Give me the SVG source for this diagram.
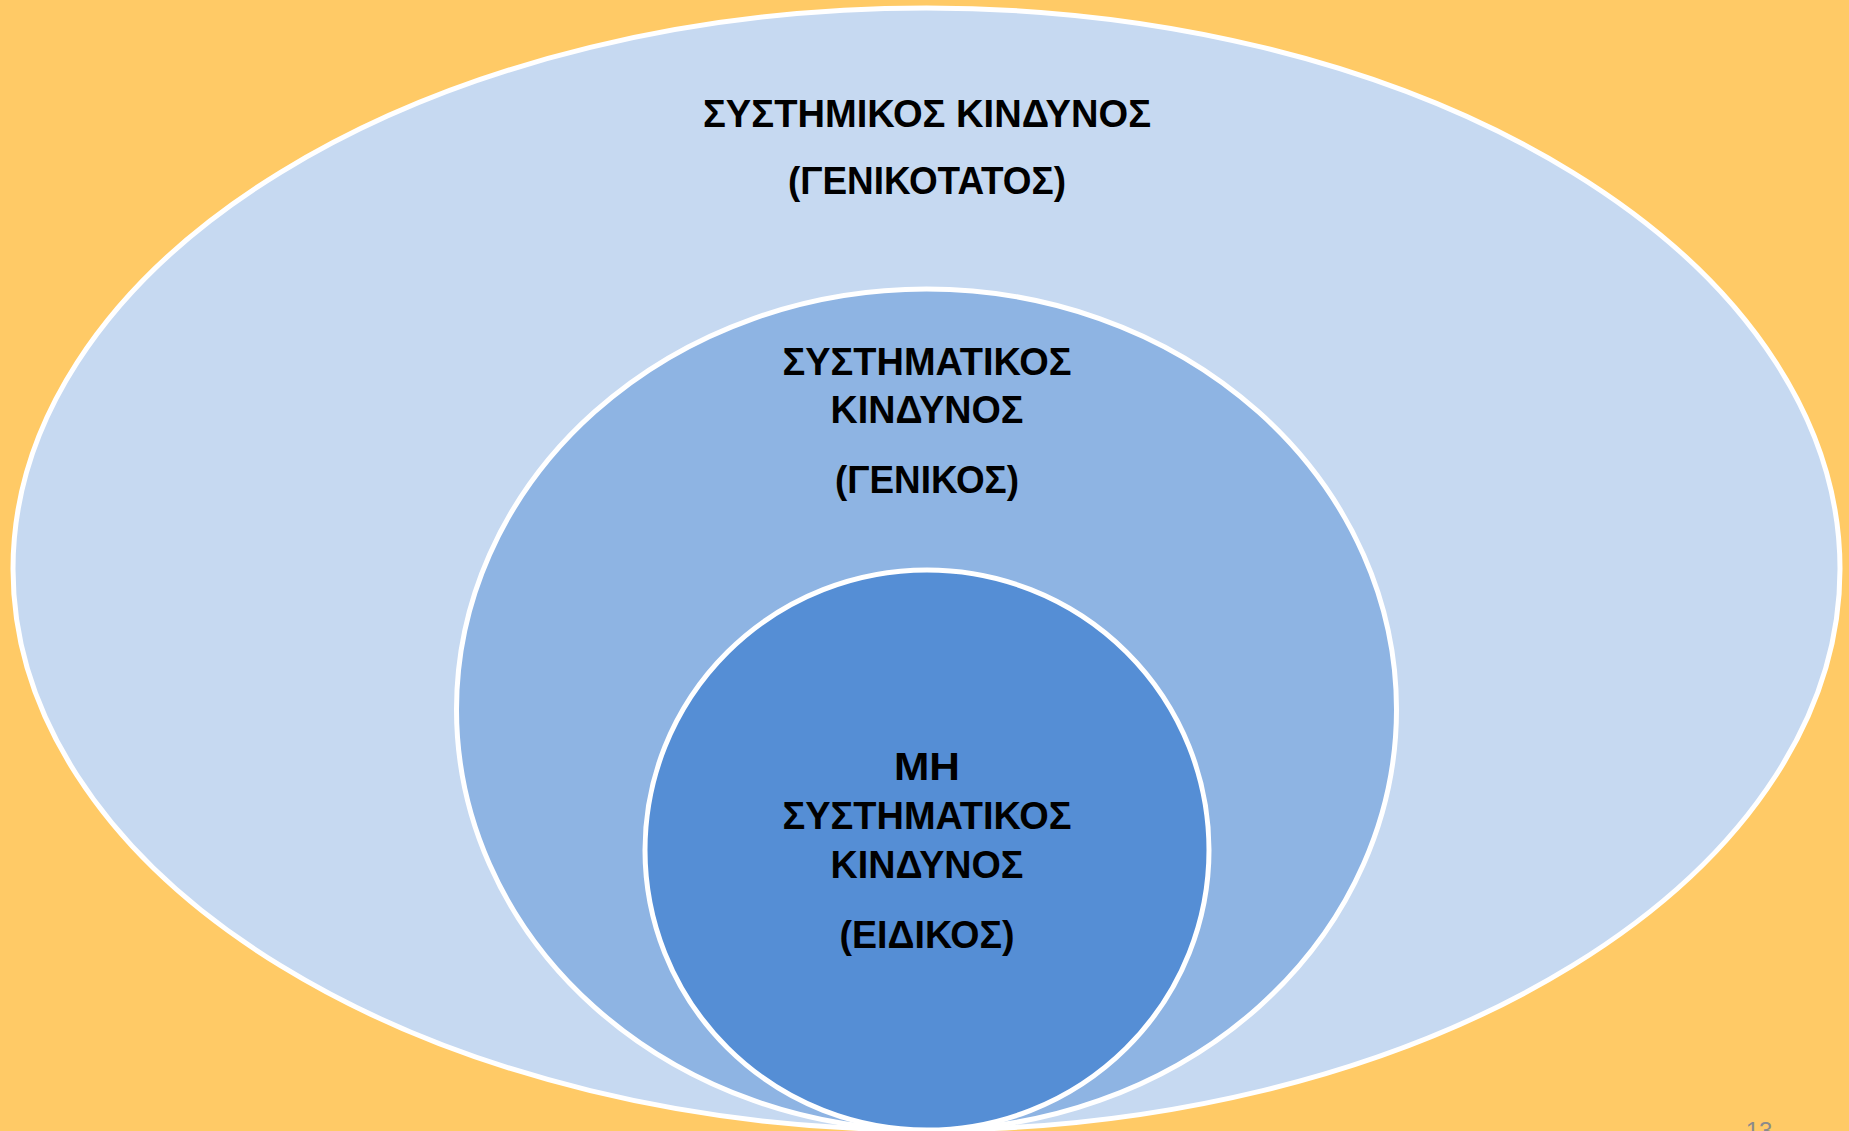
<svg xmlns="http://www.w3.org/2000/svg" width="1849" height="1131" viewBox="0 0 1849 1131">
<style>
.ring{stroke:#FFFFFF;stroke-width:5}
.t{font-family:"Liberation Sans",Arial,sans-serif;font-weight:bold;font-size:39px;fill:#000000;text-anchor:middle}
.pg{font-family:"Liberation Sans",Arial,sans-serif;font-size:24px;fill:#8B8B8B;text-anchor:middle}
</style>
<rect x="0" y="0" width="1849" height="1131" fill="#FFCA66"/>
<g id="outer">
<ellipse class="ring" cx="926.5" cy="569" rx="913.5" ry="561" fill="#C6D9F1"/>
<text class="t" x="927" y="127" textLength="448" lengthAdjust="spacingAndGlyphs">ΣΥΣΤΗΜΙΚΟΣ ΚΙΝΔΥΝΟΣ</text>
<text class="t" x="927" y="194" textLength="278" lengthAdjust="spacingAndGlyphs">(ΓΕΝΙΚΟΤΑΤΟΣ)</text>
</g>
<g id="middle">
<ellipse class="ring" cx="926.5" cy="709.5" rx="470" ry="420.5" fill="#8EB4E3"/>
<text class="t" x="927" y="375" textLength="289" lengthAdjust="spacingAndGlyphs">ΣΥΣΤΗΜΑΤΙΚΟΣ</text>
<text class="t" x="927" y="423" textLength="193" lengthAdjust="spacingAndGlyphs">ΚΙΝΔΥΝΟΣ</text>
<text class="t" x="927" y="493" textLength="184" lengthAdjust="spacingAndGlyphs">(ΓΕΝΙΚΟΣ)</text>
</g>
<g id="inner">
<ellipse class="ring" cx="927" cy="850" rx="282" ry="280" fill="#558ED5"/>
<text class="t" x="927" y="780" textLength="66" lengthAdjust="spacingAndGlyphs">ΜΗ</text>
<text class="t" x="927" y="829" textLength="289" lengthAdjust="spacingAndGlyphs">ΣΥΣΤΗΜΑΤΙΚΟΣ</text>
<text class="t" x="927" y="878" textLength="193" lengthAdjust="spacingAndGlyphs">ΚΙΝΔΥΝΟΣ</text>
<text class="t" x="927" y="948" textLength="175" lengthAdjust="spacingAndGlyphs">(ΕΙΔΙΚΟΣ)</text>
</g>
<g id="connectors"/>
<text class="pg" x="1759" y="1139">13</text>
</svg>
